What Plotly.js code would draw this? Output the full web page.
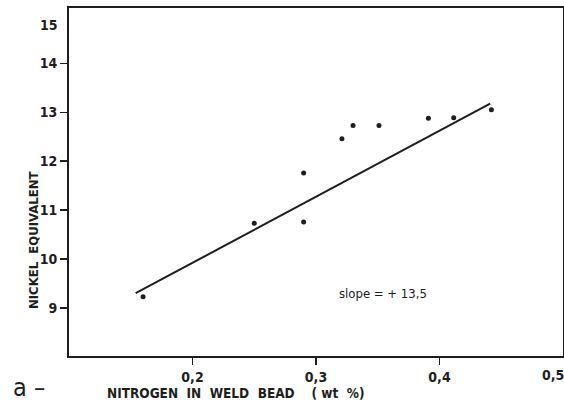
<!DOCTYPE html>
<html>
<head>
<meta charset="utf-8">
<script src="https://cdn.plot.ly/plotly-3.0.1.min.js"></script>
<style>
  html, body { margin: 0; padding: 0; background: #fff; }
  #chart { width: 564px; height: 408px; }
</style>
</head>
<body>
<div id="chart"></div>
<script>
// Nitrogen content of the weld bead (wt %) and the nickel equivalent measured
const nitrogen = [0.160, 0.250, 0.290, 0.290, 0.321, 0.330, 0.351, 0.391, 0.4115, 0.442];
const nickelEq = [9.23, 10.73, 10.76, 11.76, 12.46, 12.73, 12.73, 12.88, 12.89, 13.05];

// Fitted trend line: stated slope, anchored at the centre of the fit span
const fitSlope = 13.5;
const fitAnchor = [0.2975, 11.24];
const fitSpan = [0.154, 0.441];

// Axis ticks
const xTickVals = [0.2, 0.3, 0.4];
const xTickText = ['0,2', '0,3', '0,4'];
const yTickVals = [9, 10, 11, 12, 13, 14];
const yTickText = ['9', '10', '11', '12', '13', '14'];
// Labels at the frame edges, drawn without tick marks
const xEdgeLabel = { value: 0.492, text: '0,5' };
const yEdgeLabel = { value: 14.78, text: '15' };

const xTitle = 'NITROGEN  IN  WELD  BEAD    ( wt  %)';
const yTitle = 'NICKEL  EQUIVALENT';
const slopeNote = 'slope = + 13,5';
const panelTag = 'a –';

const fitY = fitSpan.map(x => fitAnchor[1] + fitSlope * (x - fitAnchor[0]));

const ink = '#1e1e1e';
const font = 'DejaVu Sans Condensed, DejaVu Sans, sans-serif';

const traces = [
  {
    x: fitSpan, y: fitY, mode: 'lines', type: 'scatter',
    line: { color: ink, width: 2 }, hoverinfo: 'skip'
  },
  {
    x: nitrogen, y: nickelEq, mode: 'markers', type: 'scatter',
    marker: { color: ink, size: 5 }
  }
];

const tickFont = { family: font, size: 14, color: ink, weight: 'bold' };

const layout = {
  width: 564, height: 408,
  margin: { l: 69, r: 1, t: 8, b: 52 },
  paper_bgcolor: '#fff', plot_bgcolor: '#fff',
  showlegend: false,
  font: { family: font, color: ink, size: 13 },
  xaxis: {
    range: [0.1, 0.5],
    tickvals: xTickVals, ticktext: xTickText,
    ticks: 'outside', ticklen: 7, tickwidth: 1.5, tickcolor: ink,
    showgrid: false, zeroline: false,
    showline: true, mirror: true, linecolor: ink, linewidth: 2,
    tickfont: tickFont
  },
  yaxis: {
    range: [8.02, 15.13],
    tickvals: yTickVals, ticktext: yTickText,
    ticks: 'outside', ticklen: 7, tickwidth: 1.5, tickcolor: ink,
    showgrid: false, zeroline: false,
    showline: true, mirror: true, linecolor: ink, linewidth: 2,
    tickfont: tickFont
  },
  annotations: [
    // edge tick labels
    {
      x: xEdgeLabel.value, y: 0, xref: 'x', yref: 'paper',
      text: xEdgeLabel.text, showarrow: false,
      yanchor: 'top', yshift: -9, font: tickFont
    },
    {
      x: 0, y: yEdgeLabel.value, xref: 'paper', yref: 'y',
      text: yEdgeLabel.text, showarrow: false,
      xanchor: 'right', xshift: -9, font: tickFont
    },
    // axis titles, set off-centre under and beside the frame
    {
      x: 0.073, y: -0.107, xref: 'paper', yref: 'paper',
      text: xTitle, showarrow: false, xanchor: 'left', yanchor: 'middle',
      font: { family: font, size: 13.5, color: ink, weight: 'bold' }
    },
    {
      x: -0.073, y: 0.333, xref: 'paper', yref: 'paper',
      text: yTitle, showarrow: false, textangle: -90,
      xanchor: 'center', yanchor: 'middle',
      font: { family: font, size: 13, color: ink, weight: 'bold' }
    },
    // fit annotation
    {
      x: 0.317, y: 9.29, xref: 'x', yref: 'y',
      text: slopeNote, showarrow: false, xanchor: 'left', yanchor: 'middle',
      font: { family: font, size: 13, color: ink }
    },
    // panel letter
    {
      x: -0.117, y: -0.09, xref: 'paper', yref: 'paper',
      text: panelTag, showarrow: false, xanchor: 'left', yanchor: 'middle',
      font: { family: font, size: 25, color: ink }
    }
  ]
};

Plotly.newPlot('chart', traces, layout, { displayModeBar: false, staticPlot: true });
</script>
</body>
</html>
